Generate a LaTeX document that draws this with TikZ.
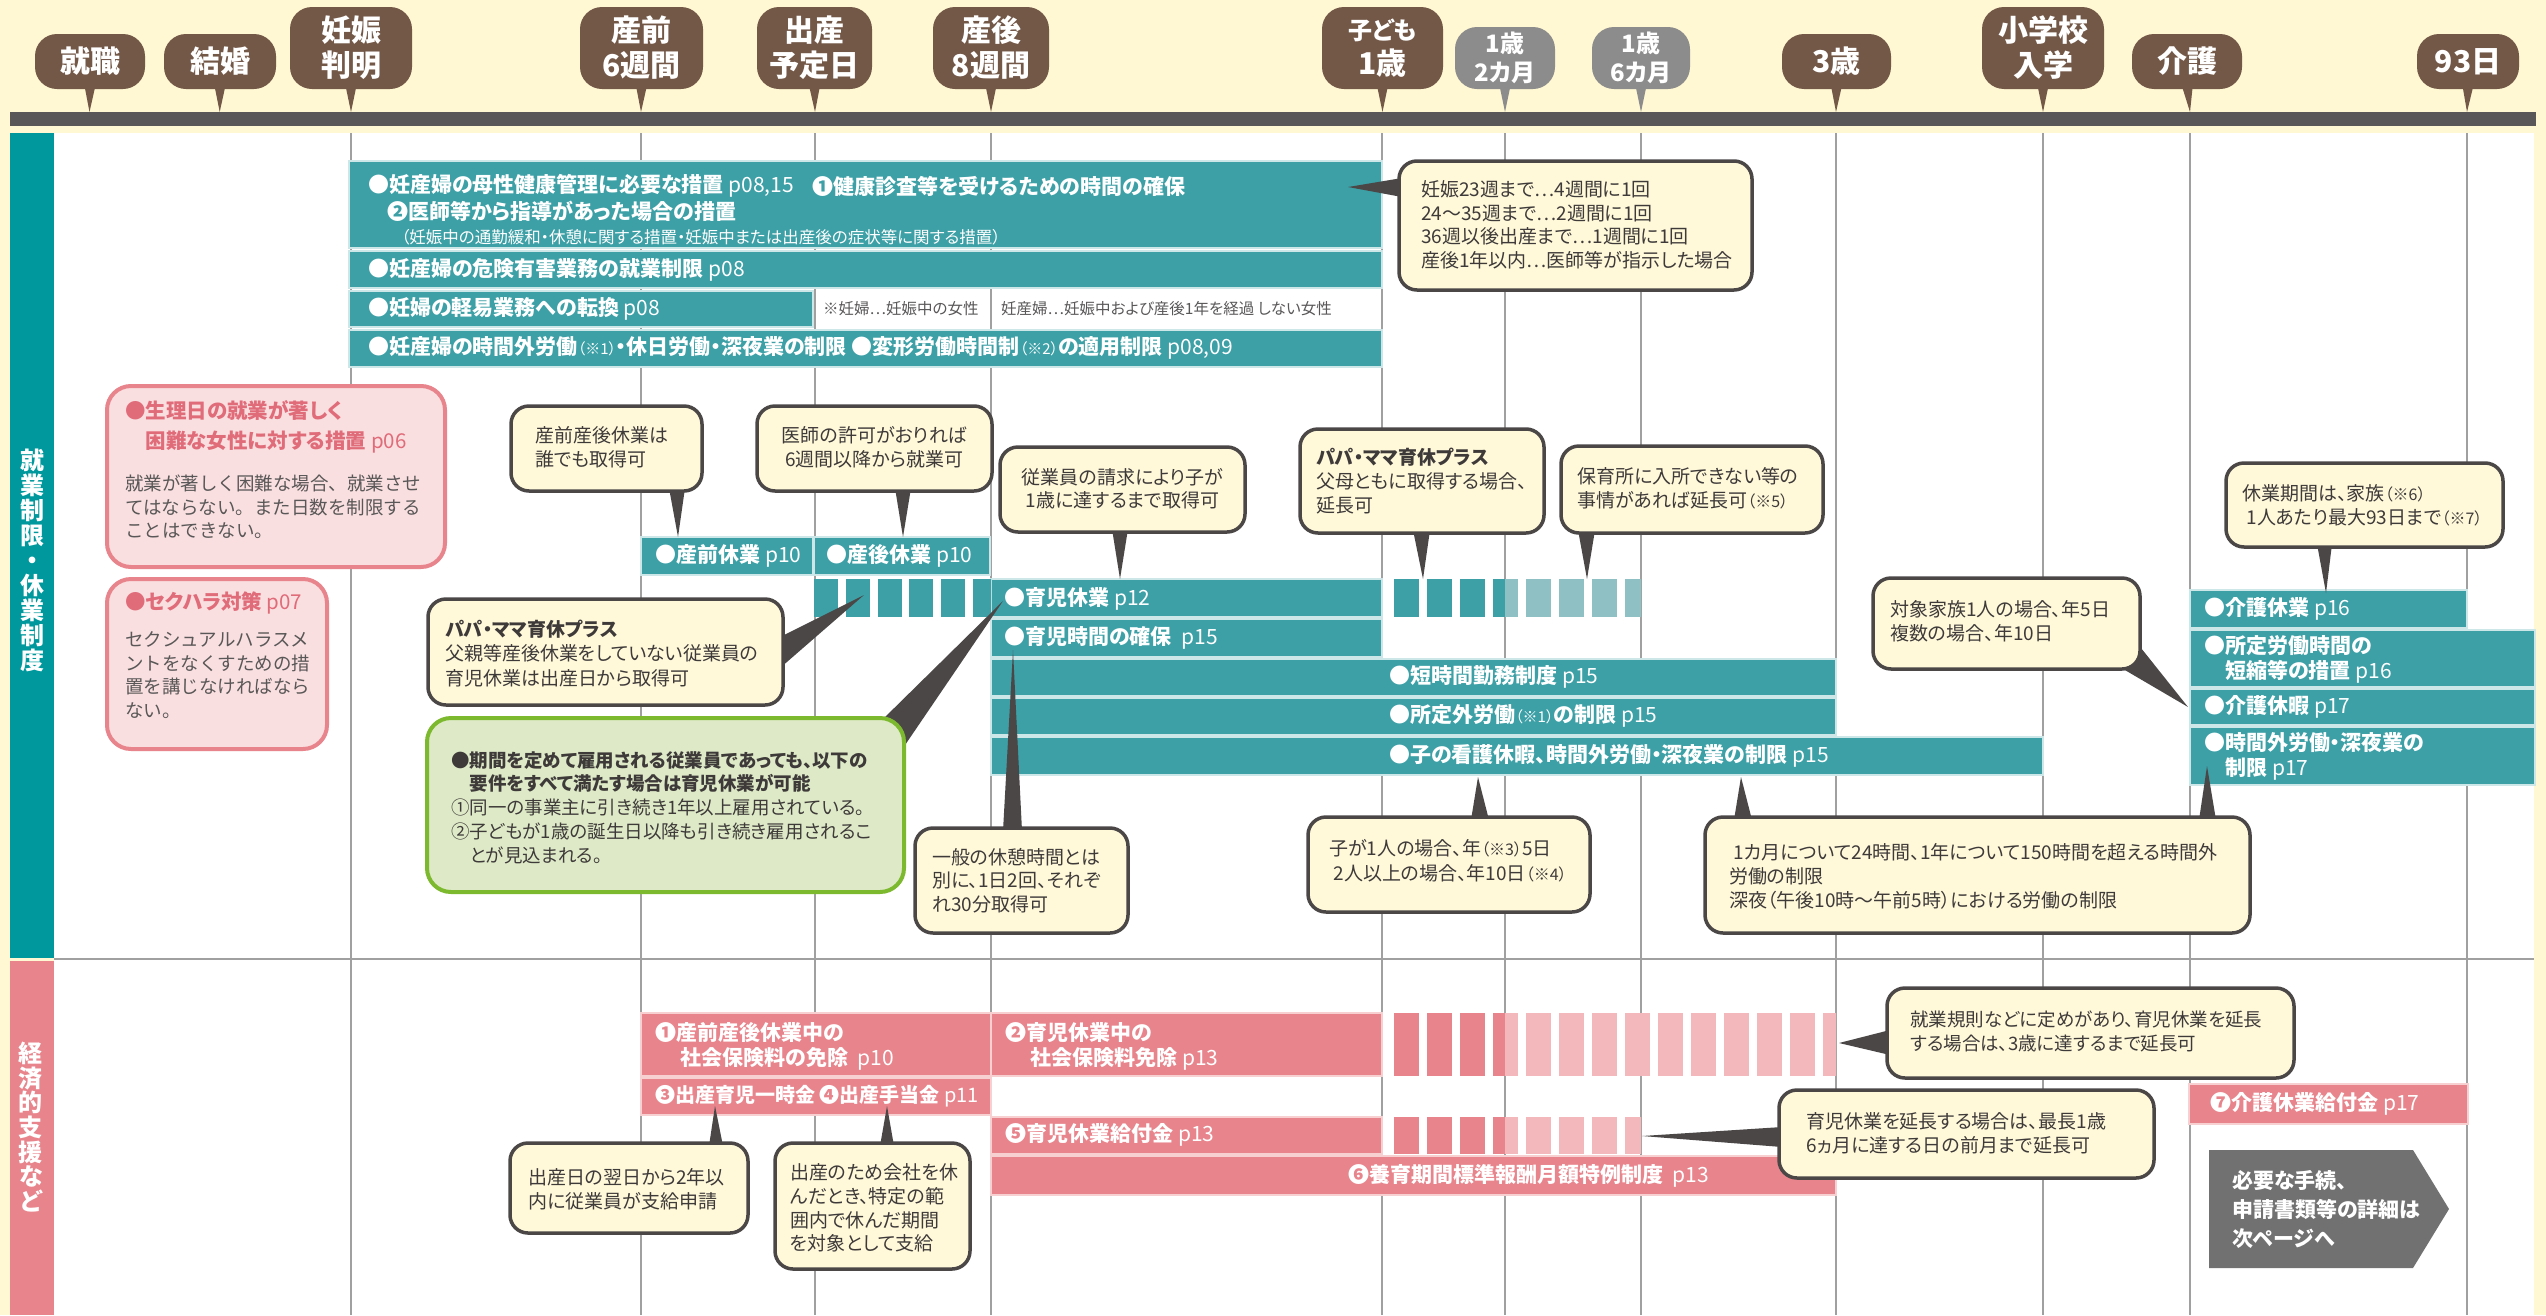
\documentclass[tikz,border=0pt]{standalone}
\usepackage{fontspec}
\setmainfont{Noto Sans CJK JP}[RawFeature=+palt]
\newfontfamily\nopalt{Noto Sans CJK JP}
\usetikzlibrary{calc}
\definecolor{cream}{HTML}{FFF8D3}
\definecolor{brownb}{HTML}{735848}
\definecolor{grayb}{HTML}{8C8C8C}
\definecolor{darkbar}{HTML}{595757}
\definecolor{teala}{HTML}{3CA0A6}
\definecolor{tealb}{HTML}{8FC0C4}
\definecolor{tealside}{HTML}{00989C}
\definecolor{tealedge}{HTML}{CDE6E7}
\definecolor{pinka}{HTML}{E8848C}
\definecolor{pinkb}{HTML}{F2B8BC}
\definecolor{pinkedge}{HTML}{F7D0D2}
\definecolor{pinkfill}{HTML}{FADFE0}
\definecolor{pinktxt}{HTML}{E06B79}
\definecolor{callfill}{HTML}{FFF9DA}
\definecolor{callline}{HTML}{4B4747}
\definecolor{greenline}{HTML}{7DB92E}
\definecolor{greenfill}{HTML}{DEEAC7}
\definecolor{gridc}{HTML}{A0A0A0}
\definecolor{txtc}{HTML}{3E3A39}
\definecolor{notec}{HTML}{595757}
\definecolor{arrowgray}{HTML}{717171}
\newcommand\fsz[2]{\fontsize{#1}{#2}\selectfont}
\newcommand\pg[1]{{\mdseries #1}}
\newcommand\sm[1]{{\mdseries\fsz{15}{16}#1}}
\newcommand\snote[1]{{\fsz{16}{20}#1}}
\begin{document}
\begin{tikzpicture}[x=1pt,y=-1pt,
  hb/.style={fill=brownb, rounded corners=22pt, text=white, font=\bfseries\fsz{30}{35}, align=center, inner sep=0pt},
  hg/.style={hb, fill=grayb, font=\bfseries\fsz{24}{29}},
  lbl/.style={anchor=west, inner sep=0pt, text=white, font=\bfseries\fsz{21}{25}, align=left},
  boxpos/.style={anchor=north west, inner sep=0pt, outer sep=0pt},
  callshape/.style={fill=callfill, draw=callline, line width=3.5pt, rounded corners=18pt},
  pinkshape/.style={fill=pinkfill, draw=pinka, line width=4pt, rounded corners=24pt},
  greenshape/.style={fill=greenfill, draw=greenline, line width=4pt, rounded corners=24pt},
  ctext/.style={anchor=west, inner sep=0pt, text=txtc, font=\fsz{19}{23.5}, align=left},
  ptr/.style={fill=callline},
  tbar/.style={fill=teala, draw=tealedge, line width=2pt},
  pbar/.style={fill=pinka, draw=pinkedge, line width=2pt},
  gridline/.style={draw=gridc, line width=1.3pt},
]
\useasboundingbox (0,0) rectangle (2546,1315);
% background
\fill[cream] (0,0) rectangle (2546,1315);
\fill[white] (54,133) rectangle (2534,1315);
\fill[tealside] (10,133) rectangle (54,958);
\fill[pinka] (10,961) rectangle (54,1315);
\fill[darkbar] (10,112) rectangle (2536,126);
\foreach \gx in {351,641,815,991,1382,1505,1641,1836,2043,2190,2467}
  \draw[gridline] (\gx,133) -- (\gx,1315);
\draw[draw=gridc, line width=2pt] (54,959) -- (2534,959);

% side labels
\node[text=white, font=\bfseries\fsz{24}{25}, align=center, inner sep=0pt] (sideA) at (32,560) {就\\業\\制\\限\\・\\休\\業\\制\\度};
\node[text=white, font=\bfseries\fsz{24}{24.7}, align=center, inner sep=0pt] (sideB) at (31,1127) {経\\済\\的\\支\\援\\な\\ど};

% header bubbles
\node[hb, minimum width=110pt, minimum height=55pt] (h1) at (90,61.5) {就職};
\node[hb, minimum width=112pt, minimum height=55pt] (h2) at (220,61.5) {結婚};
\node[hb, minimum width=122pt, minimum height=82pt] (h3) at (351,48) {妊娠\\判明};
\node[hb, minimum width=123pt, minimum height=82pt] (h4) at (641.5,48) {産前\\6週間};
\node[hb, minimum width=115pt, minimum height=82pt] (h5) at (814.5,48) {出産\\予定日};
\node[hb, minimum width=116pt, minimum height=82pt] (h6) at (991,48) {産後\\8週間};
\node[hb, minimum width=121pt, minimum height=82pt] (h7) at (1382.5,48) {{\fsz{24}{30}子ども}\\1歳};
\node[hg, minimum width=100pt, minimum height=62pt] (h8) at (1505,58) {1歳\\2カ月};
\node[hg, minimum width=98pt, minimum height=62pt] (h9) at (1641,58) {1歳\\6カ月};
\node[hb, minimum width=109pt, minimum height=55pt] (h10) at (1836.5,61.5) {3歳};
\node[hb, minimum width=122pt, minimum height=82pt] (h11) at (2043,48) {小学校\\入学};
\node[hb, minimum width=110pt, minimum height=55pt] (h12) at (2187,61.5) {介護};
\node[hb, minimum width=102pt, minimum height=55pt] (h13) at (2468,61.5) {93日};
\foreach \n/\t/\c in {h1/89.5/brownb, h2/219.7/brownb, h3/351/brownb, h4/641/brownb, h5/815/brownb, h6/991/brownb, h7/1382.5/brownb, h8/1505/grayb, h9/1641/grayb, h10/1836/brownb, h11/2043/brownb, h12/2190/brownb, h13/2467/brownb} {
  \coordinate (tip\n) at (\t,112);
  \fill[\c] ($(\n.south)+(-6,-6)$) -- (tip\n) -- ($(\n.south)+(6,-6)$) -- cycle;
}

% upper teal bars
\path[tbar] (349,161) rectangle (1382,248);
\path[tbar] (349,251) rectangle (1382,288);
\path[tbar] (349,291) rectangle (813,327);
\path[tbar] (349,330) rectangle (1382,367);
\path[tbar] (641,537) rectangle (813,575);
\path[tbar] (814,537) rectangle (990,575);
\path[tbar] (991,579) rectangle (1382,617);
\path[tbar] (991,619) rectangle (1382,657);
\path[tbar] (991,659) rectangle (1836,696);
\path[tbar] (991,698) rectangle (1836,735);
\path[tbar] (991,737) rectangle (2043,775);
\path[tbar] (2190,590) rectangle (2467,628);
\path[tbar] (2190,630) rectangle (2535,687);
\path[tbar] (2190,689) rectangle (2535,725);
\path[tbar] (2190,727) rectangle (2535,785);
% teal stripes
\begin{scope}
\clip (814,579) rectangle (991,617);
\foreach \i in {0,...,5} \fill[teala] ({814+31.8*\i},579) rectangle ({838+31.8*\i},617);
\end{scope}
\begin{scope}
\clip (1382,579) rectangle (1505,617);
\foreach \i in {0,...,7} \fill[teala] ({1394+33*\i},579) rectangle ({1419+33*\i},617);
\end{scope}
\begin{scope}
\clip (1505,579) rectangle (1641,617);
\foreach \i in {0,...,7} \fill[tealb] ({1394+33*\i},579) rectangle ({1419+33*\i},617);
\end{scope}

% pink bars
\path[pbar] (641,1013) rectangle (991,1076);
\path[pbar] (991,1013) rectangle (1382,1076);
\path[pbar] (641,1078) rectangle (991,1115);
\path[pbar] (991,1117) rectangle (1382,1154);
\path[pbar] (991,1156) rectangle (1836,1195);
\path[pbar] (2189,1084) rectangle (2468,1124);
\begin{scope}
\clip (1382,1013) rectangle (1505,1076);
\foreach \i in {0,...,13} \fill[pinka] ({1394+33*\i},1013) rectangle ({1419+33*\i},1076);
\end{scope}
\begin{scope}
\clip (1505,1013) rectangle (1836,1076);
\foreach \i in {0,...,13} \fill[pinkb] ({1394+33*\i},1013) rectangle ({1419+33*\i},1076);
\end{scope}
\begin{scope}
\clip (1382,1117) rectangle (1505,1154);
\foreach \i in {0,...,7} \fill[pinka] ({1394+33*\i},1117) rectangle ({1419+33*\i},1154);
\end{scope}
\begin{scope}
\clip (1505,1117) rectangle (1641,1154);
\foreach \i in {0,...,7} \fill[pinkb] ({1394+33*\i},1117) rectangle ({1419+33*\i},1154);
\end{scope}

% gray arrow
\fill[arrowgray] (2209,1150) -- (2413,1150) -- (2449,1209) -- (2413,1268) -- (2209,1268) -- cycle;
\node[anchor=west, inner sep=0pt, text=white, font=\bfseries\fsz{21}{29}, align=left] (nextp) at (2232,1209) {必要な手続、\\申請書類等の詳細は\\次ページへ};

% box positions
\node[boxpos, minimum width=338pt, minimum height=181pt] (p1) at (107,386) {};
\node[boxpos, minimum width=220pt, minimum height=170pt] (p2) at (107,579) {};
\node[boxpos, minimum width=477pt, minimum height=174pt] (g) at (427,718) {};
\node[boxpos, minimum width=353pt, minimum height=129pt] (tr) at (1399,161) {};
\node[boxpos, minimum width=191pt, minimum height=85pt] (c1) at (511,406) {};
\node[boxpos, minimum width=235pt, minimum height=85pt] (c2) at (757,406) {};
\node[boxpos, minimum width=245pt, minimum height=85pt] (c3) at (1000,447) {};
\node[boxpos, minimum width=355pt, minimum height=106pt] (c4) at (428,599) {};
\node[boxpos, minimum width=213pt, minimum height=105pt] (c5) at (915,828) {};
\node[boxpos, minimum width=282pt, minimum height=95pt] (c6) at (1308,817) {};
\node[boxpos, minimum width=545pt, minimum height=116pt] (c7) at (1705,817) {};
\node[boxpos, minimum width=244pt, minimum height=104pt] (c8) at (1300,429) {};
\node[boxpos, minimum width=262pt, minimum height=87pt] (c9) at (1561,446) {};
\node[boxpos, minimum width=277pt, minimum height=84pt] (c10) at (2226,463) {};
\node[boxpos, minimum width=267pt, minimum height=91pt] (c11) at (1873,578) {};
\node[boxpos, minimum width=238pt, minimum height=90pt] (b1) at (510,1143) {};
\node[boxpos, minimum width=195pt, minimum height=126pt] (b2) at (775,1143) {};
\node[boxpos, minimum width=407pt, minimum height=90pt] (b3) at (1887,988) {};
\node[boxpos, minimum width=375pt, minimum height=88pt] (b4) at (1779,1090) {};

% pointer tips
\coordinate (trtip) at (1348,187);
\coordinate (c1tip) at (678,537);
\coordinate (c2tip) at (903,537);
\coordinate (c3tip) at (1120,579);
\coordinate (c4tip) at (864,595);
\coordinate (gtip) at (1003,601);
\coordinate (c5tip) at (1013,650);
\coordinate (c6tip) at (1478,777);
\coordinate (c7tipa) at (1741,777);
\coordinate (c7tipb) at (2207,766);
\coordinate (c8tip) at (1423,579);
\coordinate (c9tip) at (1587,579);
\coordinate (c10tip) at (2326,593);
\coordinate (c11tip) at (2188,707);
\coordinate (b1tip) at (715,1106);
\coordinate (b2tip) at (887,1106);
\coordinate (b3tip) at (1839,1043);
\coordinate (b4tip) at (1642,1136);

% pointers
\fill[ptr] ($(tr.north west)+(3,17)$) -- (trtip) -- ($(tr.north west)+(3,36)$) -- cycle;
\fill[ptr] ($(c1.south west)+(158,-3)$) -- (c1tip) -- ($(c1.south west)+(174,-3)$) -- cycle;
\fill[ptr] ($(c2.south west)+(138,-3)$) -- (c2tip) -- ($(c2.south west)+(154,-3)$) -- cycle;
\fill[ptr] ($(c3.south west)+(112,-3)$) -- (c3tip) -- ($(c3.south west)+(128,-3)$) -- cycle;
\fill[ptr] ($(c4.north east)+(-3,38)$) -- (c4tip) -- ($(c4.north east)+(-3,69)$) -- cycle;
\fill[ptr] ($(g.north east)+(-24,4)$) -- (gtip) -- ($(g.north east)+(-1,30)$) -- cycle;
\fill[ptr] ($(c5.north west)+(88,3)$) -- (c5tip) -- ($(c5.north west)+(107,3)$) -- cycle;
\fill[ptr] ($(c6.north west)+(163,3)$) -- (c6tip) -- ($(c6.north west)+(181,3)$) -- cycle;
\fill[ptr] ($(c7.north west)+(29,3)$) -- (c7tipa) -- ($(c7.north west)+(47,3)$) -- cycle;
\fill[ptr] ($(c7.north west)+(494,3)$) -- (c7tipb) -- ($(c7.north west)+(511,3)$) -- cycle;
\fill[ptr] ($(c8.south west)+(113,-3)$) -- (c8tip) -- ($(c8.south west)+(130,-3)$) -- cycle;
\fill[ptr] ($(c9.south west)+(17,-3)$) -- (c9tip) -- ($(c9.south west)+(34,-3)$) -- cycle;
\fill[ptr] ($(c10.south west)+(91,-3)$) -- (c10tip) -- ($(c10.south west)+(106,-3)$) -- cycle;
\fill[ptr] ($(c11.south east)+(-22,-3)$) -- (c11tip) -- ($(c11.south east)+(-3,-26)$) -- cycle;
\fill[ptr] ($(b1.north west)+(199,3)$) -- (b1tip) -- ($(b1.north west)+(213,3)$) -- cycle;
\fill[ptr] ($(b2.north west)+(105,3)$) -- (b2tip) -- ($(b2.north west)+(119,3)$) -- cycle;
\fill[ptr] ($(b3.north west)+(3,42)$) -- (b3tip) -- ($(b3.north west)+(3,67)$) -- cycle;
\fill[ptr] ($(b4.north west)+(3,37)$) -- (b4tip) -- ($(b4.north west)+(3,57)$) -- cycle;

% boxes
\path[pinkshape] (p1.north west) rectangle (p1.south east);
\path[pinkshape] (p2.north west) rectangle (p2.south east);
\path[greenshape] (g.north west) rectangle (g.south east);
\foreach \c in {tr,c1,c2,c3,c4,c5,c6,c7,c8,c9,c10,c11,b1,b2,b3,b4}
  \path[callshape] (\c.north west) rectangle (\c.south east);

% bar labels (upper)
\node[lbl] (ta1) at (368,186) {●妊産婦の母性健康管理に必要な措置\ \pg{p08,15}};
\node[lbl] (ta2) at (812,186) {❶健康診査等を受けるための時間の確保};
\node[lbl] (ta3) at (387,211) {❷医師等から指導があった場合の措置};
\node[lbl, font=\fsz{16.5}{18}] (ta4) at (401,237) {（妊娠中の通勤緩和・休憩に関する措置・妊娠中または出産後の症状等に関する措置）};
\node[lbl] (tb) at (368,270) {●妊産婦の危険有害業務の就業制限\ \pg{p08}};
\node[lbl] (tc) at (368,309) {●妊婦の軽易業務への転換\ \pg{p08}};
\node[anchor=west, inner sep=0pt, text=notec, font=\fsz{15.5}{18}] (n1) at (823,309) {※妊婦…妊娠中の女性};
\node[anchor=west, inner sep=0pt, text=notec, font=\fsz{15.5}{18}] (n2) at (1001,309) {妊産婦…妊娠中および産後1年を経過 しない女性};
\node[lbl] (td) at (368,348) {●妊産婦の時間外労働\sm{（※1）}・休日労働・深夜業の制限 ●変形労働時間制\sm{（※2）}の適用制限\ \pg{p08,09}};

% middle labels
\node[lbl] (l1) at (655,556) {●産前休業\ \pg{p10}};
\node[lbl] (l2) at (826,556) {●産後休業\ \pg{p10}};
\node[lbl] (l3) at (1004,599) {●育児休業\ \pg{p12}};
\node[lbl] (l4) at (1004,638) {●育児時間の確保\ \ \pg{p15}};
\node[lbl] (l5) at (1389,677) {●短時間勤務制度\ \pg{p15}};
\node[lbl] (l6) at (1389,716) {●所定外労働\sm{（※1）}の制限\ \pg{p15}};
\node[lbl] (l7) at (1389,756) {●子の看護休暇、時間外労働・深夜業の制限\ \pg{p15}};
\node[lbl] (k1) at (2204,609) {●介護休業\ \pg{p16}};
\node[lbl] (k2) at (2204,659.5) {●所定労働時間の\\\hspace*{1em}短縮等の措置\ \pg{p16}};
\node[lbl] (k3) at (2204,707) {●介護休暇\ \pg{p17}};
\node[lbl] (k4) at (2204,756.5) {●時間外労働・深夜業の\\\hspace*{1em}制限\ \pg{p17}};

% pink labels
\node[lbl] (m1) at (655,1046.5) {❶産前産後休業中の\\\hspace*{1.2em}社会保険料の免除\ \ \pg{p10}};
\node[lbl] (m2) at (1005,1046.5) {❷育児休業中の\\\hspace*{1.2em}社会保険料免除\ \pg{p13}};
\node[lbl, font=\bfseries\fsz{20}{25}] (m3) at (655,1096) {❸出産育児一時金 ❹出産手当金\ \pg{p11}};
\node[lbl] (m5) at (1005,1135) {❺育児休業給付金\ \pg{p13}};
\node[lbl] (m6) at (1348,1176) {❻養育期間標準報酬月額特例制度\ \ \pg{p13}};
\node[lbl] (m7) at (2210,1104) {❼介護休業給付金\ \pg{p17}};

% pink boxes text
\node[anchor=west, inner sep=0pt, text=pinktxt, font=\bfseries\fsz{20.5}{30}, align=left] (p1t) at (125,427) {●生理日の就業が著しく\\\hspace*{1em}困難な女性に対する措置\ \pg{p06}};
\node[anchor=west, inner sep=0pt, text=notec, font=\nopalt\fsz{18.5}{23.5}, align=left] (p1b) at (125,507) {就業が著しく困難な場合、就業させ\\てはならない。また日数を制限する\\ことはできない。};
\node[anchor=west, inner sep=0pt, text=pinktxt, font=\bfseries\fsz{20.5}{30}, align=left] (p2t) at (125,603) {●セクハラ対策\ \pg{p07}};
\node[anchor=west, inner sep=0pt, text=notec, font=\nopalt\fsz{18.5}{23.4}, align=left] (p2b) at (125,675) {セクシュアルハラスメ\\ントをなくすための措\\置を講じなければなら\\ない。};

% green box text
\node[anchor=west, inner sep=0pt, text=txtc, font=\fsz{18.5}{23.75}, align=left] (gt) at (451,807.5) {{\bfseries ●期間を定めて雇用される従業員であっても、以下の}\\{\bfseries\hspace*{1em}要件をすべて満たす場合は育児休業が可能}\\①同一の事業主に引き続き1年以上雇用されている。\\②子どもが1歳の誕生日以降も引き続き雇用されるこ\\\hspace*{1em}とが見込まれる。};

% callout texts
\node[ctext] (trt) at (1421,225) {妊娠23週まで…4週間に1回\\24～35週まで…2週間に1回\\36週以後出産まで…1週間に1回\\産後1年以内…医師等が指示した場合};
\node[ctext] (c1t) at (535,447) {産前産後休業は\\誰でも取得可};
\node[ctext, anchor=center, align=center] (c2t) at (874.5,447) {医師の許可がおりれば\\6週間以降から就業可};
\node[ctext, anchor=center, align=center] (c3t) at (1122.5,488.5) {従業員の請求により子が\\1歳に達するまで取得可};
\node[ctext, font=\fsz{19}{24.5}] (c4t) at (445,653.5) {{\bfseries パパ・ママ育休プラス}\\父親等産後休業をしていない従業員の\\育児休業は出産日から取得可};
\node[ctext] (c5t) at (932,880.5) {一般の休憩時間とは\\別に、1日2回、それぞ\\れ30分取得可};
\node[ctext, font=\fsz{19}{25}] (c6t) at (1329,860.5) {子が1人の場合、年\snote{（※3）}5日\\\ 2人以上の場合、年10日\snote{（※4）}};
\node[ctext, font=\fsz{19}{24}] (c7t) at (1729,876) {\ 1カ月について24時間、1年について150時間を超える時間外\\労働の制限\\深夜（午後10時～午前5時）における労働の制限};
\node[ctext, font=\fsz{19}{24}] (c8t) at (1316,481) {{\bfseries パパ・ママ育休プラス}\\父母ともに取得する場合、\\延長可};
\node[ctext] (c9t) at (1577,488.5) {保育所に入所できない等の\\事情があれば延長可\snote{（※5）}};
\node[ctext, font=\fsz{19}{24}] (c10t) at (2242,505) {休業期間は、家族\snote{（※6）}\\\ 1人あたり最大93日まで\snote{（※7）}};
\node[ctext] (c11t) at (1890,621.5) {対象家族1人の場合、年5日\\複数の場合、年10日};
\node[ctext] (b1t) at (528,1189.5) {出産日の翌日から2年以\\内に従業員が支給申請};
\node[ctext, font=\fsz{19}{23.7}] (b2t) at (790,1208) {出産のため会社を休\\んだとき、特定の範\\囲内で休んだ期間\\を対象として支給};
\node[ctext, font=\fsz{18.5}{23.5}] (b3t) at (1910,1031.5) {就業規則などに定めがあり、育児休業を延長\\する場合は、3歳に達するまで延長可};
\node[ctext] (b4t) at (1806,1133.5) {育児休業を延長する場合は、最長1歳\\6ヵ月に達する日の前月まで延長可};
\end{tikzpicture}
\end{document}
